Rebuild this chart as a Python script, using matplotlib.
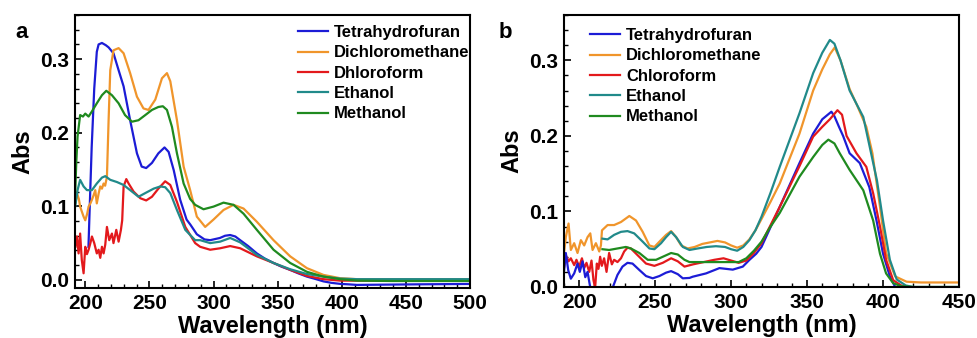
import matplotlib
matplotlib.use("Agg")
import matplotlib.pyplot as plt
from matplotlib.ticker import MultipleLocator

plt.rcParams['font.family'] = ['Liberation Sans', 'DejaVu Sans']
plt.rcParams['font.weight'] = 'bold'

# ---------------- Panel a data ----------------
a_labels = ["Tetrahydrofuran", "Dichloromethane", "Dhloroform", "Ethanol", "Methanol"]

a_thf_wl = [202.5, 203.5, 205, 207, 209, 210.4, 213, 216, 218.2, 222, 226, 229.9, 235, 240.3, 244, 247.5,
            252, 257, 261.8, 265, 269, 274, 279, 282, 287, 289.6, 293, 297.4, 305, 309, 313, 317, 320.8,
            327, 333.8, 340, 346.8, 353, 359.8, 366, 372.8, 380, 385.7, 392, 398.8, 405, 411.8, 430, 460, 500]
a_thf_ab = [0.045, 0.10, 0.18, 0.26, 0.31, 0.320, 0.322, 0.319, 0.316, 0.308, 0.285, 0.263, 0.217, 0.172,
            0.154, 0.152, 0.159, 0.172, 0.180, 0.174, 0.149, 0.109, 0.082, 0.075, 0.062, 0.059, 0.055, 0.054,
            0.057, 0.060, 0.061, 0.059, 0.054, 0.046, 0.036, 0.029, 0.023, 0.018, 0.0136, 0.009, 0.0045,
            0.001, -0.002, -0.004, -0.0054, -0.006, -0.0068, -0.0065, -0.006, -0.0055]

a_dcm_wl = [192.5, 193.5, 195, 196, 197.5, 198.7, 200, 201.5, 202.6, 204, 205.2, 206.5, 207.8, 209, 210.5,
            211.7, 213, 214.3, 215.5, 216.9, 218.2, 219.5, 222, 226, 229.9, 235, 240.3, 245.4, 249.3, 254.6,
            259.8, 263.7, 266.3, 271.5, 276.7, 281.8, 287, 293.5, 300, 307.8, 315.6, 323.4, 333.8, 346.8,
            359.8, 372.8, 385.7, 398.8, 412, 440, 470, 500]
a_dcm_ab = [0.105, 0.118, 0.11, 0.0996, 0.092, 0.086, 0.081, 0.09, 0.0996, 0.104, 0.109, 0.115, 0.122, 0.104,
            0.118, 0.127, 0.124, 0.131, 0.128, 0.140, 0.217, 0.285, 0.312, 0.315, 0.308, 0.281, 0.249, 0.233,
            0.231, 0.245, 0.274, 0.281, 0.270, 0.217, 0.154, 0.122, 0.086, 0.072, 0.082, 0.095, 0.102, 0.097,
            0.079, 0.054, 0.032, 0.016, 0.0068, 0.0023, 0.001, 0.0008, 0.0008, 0.0008]

a_chl_wl = [192.3, 193.5, 194.8, 196, 197.3, 198.7, 200, 201.3, 202.6, 204, 205.2, 207, 209, 210.4, 211.7,
            213, 214.3, 215.6, 216.9, 218.7, 220.8, 222, 224.2, 226, 227.8, 228.8, 229.9, 232, 233.8, 237.7,
            242.9, 247.5, 252, 257, 262.3, 266.3, 271.5, 278, 285.7, 289.6, 297.4, 305.2, 313, 320.8, 333.8,
            346.8, 359.8, 372.8, 385.7, 398.8, 420, 460, 500]
a_chl_ab = [0.045, 0.059, 0.036, 0.063, 0.027, 0.009, 0.045, 0.035, 0.041, 0.05, 0.059, 0.05, 0.036, 0.041,
            0.03, 0.045, 0.036, 0.048, 0.072, 0.054, 0.063, 0.05, 0.068, 0.052, 0.068, 0.081, 0.127, 0.137,
            0.131, 0.120, 0.111, 0.108, 0.113, 0.124, 0.134, 0.129, 0.106, 0.072, 0.050, 0.045, 0.041, 0.043,
            0.046, 0.043, 0.032, 0.023, 0.0136, 0.0054, 0.001, -0.001, -0.001, -0.001, -0.001]

a_eth_wl = [192.2, 194, 196, 198.7, 201.3, 205.2, 209, 213, 215.6, 219.5, 224.7, 229.9, 235, 241.5, 246.8,
            253.3, 258.5, 262.3, 266.3, 271.5, 278, 285.7, 289.6, 297.4, 305.2, 313, 320.8, 333.8, 346.8,
            359.8, 372.8, 385.7, 398.8, 412, 440, 470, 500]
a_eth_ab = [0.100, 0.122, 0.136, 0.127, 0.122, 0.122, 0.131, 0.139, 0.141, 0.136, 0.133, 0.129, 0.122, 0.113,
            0.118, 0.124, 0.127, 0.126, 0.118, 0.095, 0.068, 0.054, 0.054, 0.050, 0.052, 0.057, 0.051, 0.034,
            0.023, 0.0145, 0.008, 0.0045, 0.0018, 0.001, 0.001, 0.001, 0.001]

a_met_wl = [192.2, 193, 194, 196, 198.2, 200, 202.6, 205.2, 209, 213, 216.4, 220.8, 226, 231, 236.4, 241.5,
            246.8, 252, 257, 260.5, 263.7, 267.6, 271.5, 276.7, 281.8, 285.7, 292.2, 300, 307.8, 315.6,
            323.4, 333.8, 346.8, 359.8, 372.8, 385.7, 398.8, 412, 440, 470, 500]
a_met_ab = [0.12, 0.16, 0.195, 0.224, 0.222, 0.226, 0.222, 0.229, 0.240, 0.251, 0.257, 0.251, 0.240, 0.224,
            0.215, 0.217, 0.224, 0.231, 0.235, 0.236, 0.231, 0.208, 0.172, 0.131, 0.110, 0.102, 0.096, 0.0996,
            0.105, 0.102, 0.090, 0.068, 0.041, 0.023, 0.011, 0.0045, 0.001, -0.001, -0.0015, -0.0015, -0.0015]

# ---------------- Panel b data ----------------
b_labels = ["Tetrahydrofuran", "Dichloromethane", "Chloroform", "Ethanol", "Methanol"]

b_thf_seg1_wl = [190.1, 191.2, 192.8, 194.5, 196.7, 198.9, 200.4, 202.2, 204, 205.5, 207, 207.9, 208.5]
b_thf_seg1_ab = [0.0225, 0.045, 0.022, 0.011, 0.018, 0.031, 0.020, 0.034, 0.013, 0.020, 0.0026, -0.006, -0.01]
b_thf_wl = [221.5, 222, 225.2, 228.5, 231.8, 235.1, 239.6, 244, 248.4, 252.8, 257.2, 260.5, 264.9, 268.2,
            272.6, 274.7, 283.5, 292.3, 301.1, 307.7, 312.1, 316.5, 320, 325, 332, 345, 354, 360, 366, 368,
            371, 373.7, 378, 384.7, 391, 395.7, 400, 404.5, 408, 411, 415]
b_thf_ab = [-0.01, -0.001, 0.016, 0.027, 0.032, 0.031, 0.0225, 0.0145, 0.0115, 0.0145, 0.019, 0.021, 0.017,
            0.0115, 0.012, 0.0136, 0.018, 0.025, 0.023, 0.027, 0.036, 0.044, 0.053, 0.075, 0.106, 0.164, 0.203,
            0.222, 0.232, 0.226, 0.212, 0.200, 0.177, 0.164, 0.132, 0.088, 0.044, 0.014, 0.0, -0.004, -0.006]

b_dcm_wl = [190, 191.2, 193, 194.5, 196.7, 198.9, 201.1, 203.3, 205.5, 207.3, 208.8, 211, 213.2, 214.3,
            215, 218.7, 223, 227.5, 233, 237.4, 241.8, 246.2, 249.5, 252.8, 257.2, 260.5, 263.8, 267.1,
            271.4, 276, 281, 286, 291, 296, 300, 304, 308, 312, 316, 320, 326, 332, 345, 354, 360, 365,
            368.2, 372, 378, 383, 389, 393, 398, 402, 408, 415.5, 425, 440, 450]
b_dcm_ab = [0.045, 0.066, 0.084, 0.049, 0.058, 0.045, 0.062, 0.055, 0.066, 0.071, 0.049, 0.058, 0.047,
            0.055, 0.075, 0.082, 0.082, 0.086, 0.094, 0.088, 0.073, 0.055, 0.053, 0.060, 0.069, 0.074,
            0.066, 0.055, 0.051, 0.053, 0.057, 0.059, 0.061, 0.059, 0.055, 0.052, 0.055, 0.063, 0.075,
            0.090, 0.113, 0.137, 0.203, 0.260, 0.288, 0.308, 0.317, 0.300, 0.262, 0.240, 0.212, 0.177,
            0.106, 0.045, 0.014, 0.007, 0.006, 0.006, 0.006]

b_chl_wl = [190.1, 191.2, 193, 194.5, 196.7, 198.2, 200, 201.8, 203.3, 204.8, 206.6, 208.1, 209.4, 210.5,
            211.6, 212.7, 213.8, 214.9, 216.4, 218, 219.7, 221.5, 223, 225.2, 227.5, 229.6, 231.8, 234,
            238.5, 244, 249.5, 255, 260.5, 264.9, 269.3, 275, 282, 289, 295, 300, 305, 310, 315, 320, 325,
            332, 345, 354, 360, 365, 370, 373, 376, 382.5, 389, 393.5, 398, 402, 406.7, 412, 416]
b_chl_ab = [0.027, 0.042, 0.034, 0.038, 0.029, 0.036, 0.027, 0.038, 0.025, 0.032, 0.020, 0.035, 0.009,
            -0.001, 0.031, 0.024, 0.040, 0.028, 0.038, 0.020, 0.045, 0.030, 0.036, 0.033, 0.038, 0.047,
            0.052, 0.051, 0.042, 0.031, 0.028, 0.032, 0.038, 0.034, 0.027, 0.030, 0.033, 0.036, 0.038,
            0.035, 0.032, 0.035, 0.045, 0.058, 0.078, 0.106, 0.160, 0.199, 0.212, 0.222, 0.234, 0.228,
            0.200, 0.177, 0.159, 0.124, 0.080, 0.036, 0.009, 0.002, 0.0]

b_eth_wl = [215.3, 218.7, 223, 227.5, 231.8, 236.2, 241.8, 246.2, 249.5, 253.9, 257.2, 260.5, 263.8,
            268.2, 272.6, 278, 284, 290, 296, 300, 304, 308, 312, 316, 320, 326, 332, 345, 354, 360, 365,
            368, 372, 378, 387, 396, 400, 404.5, 409, 415, 420, 435, 450]
b_eth_ab = [0.064, 0.063, 0.069, 0.073, 0.074, 0.071, 0.060, 0.051, 0.050, 0.058, 0.066, 0.073, 0.066,
            0.053, 0.049, 0.051, 0.053, 0.054, 0.053, 0.050, 0.048, 0.053, 0.062, 0.075, 0.093, 0.125,
            0.159, 0.230, 0.283, 0.310, 0.327, 0.322, 0.300, 0.260, 0.225, 0.141, 0.088, 0.036, 0.010,
            0.002, 0.0, 0.0, 0.0]

b_met_wl = [215.3, 219.7, 225.2, 230.7, 234, 239.6, 245.1, 250.6, 255, 260.5, 264.9, 269.3, 272.6, 280,
            290, 300, 305, 310, 315, 320, 325, 332, 345, 354, 360, 364, 368, 371.5, 378, 387, 393.5, 398,
            402, 406.7, 412, 420, 435, 450]
b_met_ab = [0.050, 0.049, 0.051, 0.053, 0.051, 0.045, 0.036, 0.036, 0.040, 0.045, 0.043, 0.036, 0.033,
            0.033, 0.033, 0.033, 0.033, 0.038, 0.048, 0.060, 0.077, 0.098, 0.146, 0.172, 0.188, 0.195,
            0.190, 0.177, 0.155, 0.128, 0.088, 0.044, 0.018, 0.005, 0.001, 0.0, 0.0, 0.0]

colors = ['#1c1cd6', '#f0952b', '#e3191c', '#218a8a', '#1f8a1f']

fig = plt.figure(figsize=(9.77, 3.38), dpi=100)
axa = fig.add_axes([75/977, 50/338, 395/977, 273/338])
axb = fig.add_axes([564/977, 51/338, 395/977, 272/338])

lw = 1.6
a_series = [(a_thf_wl, a_thf_ab), (a_dcm_wl, a_dcm_ab), (a_chl_wl, a_chl_ab),
            (a_eth_wl, a_eth_ab), (a_met_wl, a_met_ab)]
for (wl, ab), c, lab in zip(a_series, colors, a_labels):
    axa.plot(wl, ab, color=c, lw=lw, label=lab)

b_series = [(b_thf_wl, b_thf_ab), (b_dcm_wl, b_dcm_ab), (b_chl_wl, b_chl_ab),
            (b_eth_wl, b_eth_ab), (b_met_wl, b_met_ab)]
for (wl, ab), c, lab in zip(b_series, colors, b_labels):
    axb.plot(wl, ab, color=c, lw=lw, label=lab)
axb.plot(b_thf_seg1_wl, b_thf_seg1_ab, color=colors[0], lw=lw)

axa.set_xlim(192, 500)
axa.set_ylim(-0.011, 0.36)
axb.set_xlim(190, 450)
axb.set_ylim(0, 0.36)

for ax in (axa, axb):
    ax.xaxis.set_major_locator(MultipleLocator(50))
    ax.xaxis.set_minor_locator(MultipleLocator(10))
    ax.yaxis.set_major_locator(MultipleLocator(0.1))
    ax.yaxis.set_minor_locator(MultipleLocator(0.02))
    ax.yaxis.set_major_formatter(matplotlib.ticker.FormatStrFormatter('%.1f'))
    ax.tick_params(which='major', direction='in', length=5, width=1.2, labelsize=15, pad=4)
    ax.tick_params(which='minor', direction='in', length=3, width=1.0)
    ax.tick_params(top=False, right=False)
    for s in ax.spines.values():
        s.set_linewidth(1.5)
    for t in ax.get_xticklabels() + ax.get_yticklabels():
        t.set_fontweight('bold')
    ax.set_xlabel('Wavelength (nm)', fontsize=17, fontweight='bold', labelpad=2)
    ax.set_ylabel('Abs', fontsize=17, fontweight='bold', labelpad=4)

leg_kw = dict(loc='upper left', frameon=False, handlelength=1.8, handletextpad=0.35,
              labelspacing=0.32, borderaxespad=0, borderpad=0,
              prop={'weight': 'bold', 'size': 12})
axa.legend(bbox_to_anchor=(0.565, 0.963), **leg_kw)
axb.legend(bbox_to_anchor=(0.066, 0.952), **leg_kw)

fig.text(22/977, 1 - 33/338, 'a', fontsize=16, fontweight='bold', ha='center', va='center')
fig.text(505/977, 1 - 33/338, 'b', fontsize=16, fontweight='bold', ha='center', va='center')

fig.savefig('out.png', dpi=100)
